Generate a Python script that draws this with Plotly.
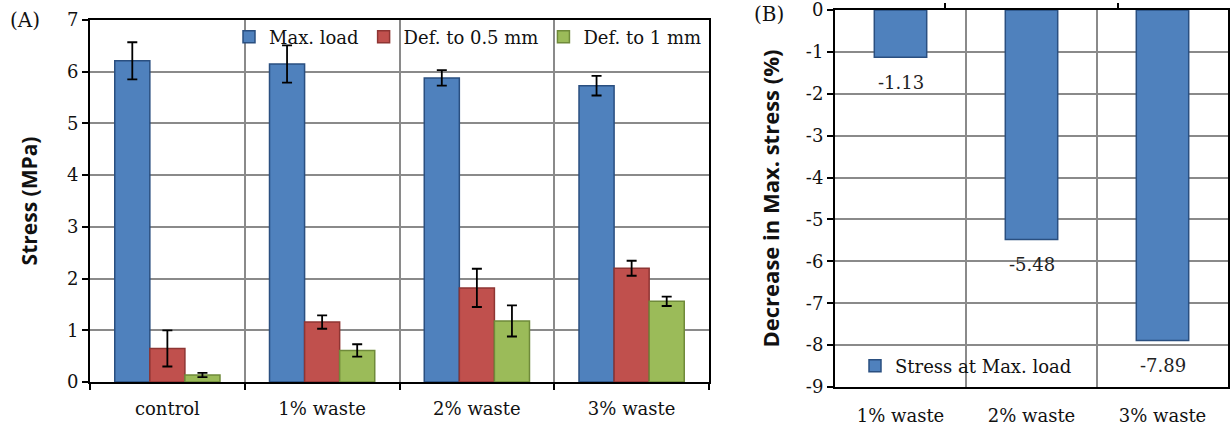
import plotly.graph_objects as go

# ---- data (A) ----
groups = ["control", "1% waste", "2% waste", "3% waste"]
series_names = ["Max. load", "Def. to 0.5 mm", "Def. to 1 mm"]
max_load = [6.21, 6.15, 5.88, 5.73]
max_load_err = [0.36, 0.36, 0.15, 0.19]
def_05 = [0.65, 1.16, 1.82, 2.20]
def_05_err = [0.35, 0.13, 0.37, 0.145]
def_1 = [0.135, 0.61, 1.18, 1.56]
def_1_err = [0.04, 0.12, 0.30, 0.09]
a_ticks = [0, 1, 2, 3, 4, 5, 6, 7]
a_ticklabels = ["0", "1", "2", "3", "4", "5", "6", "7"]

# ---- data (B) ----
groups_b = ["1% waste", "2% waste", "3% waste"]
decrease = [-1.13, -5.48, -7.89]
decrease_labels = ["-1.13", "-5.48", "-7.89"]
b_ticks = [0, -1, -2, -3, -4, -5, -6, -7, -8, -9]
b_ticklabels = ["0", "-1", "-2", "-3", "-4", "-5", "-6", "-7", "-8", "-9"]

SERIF = "DejaVu Serif"
SANS = "Open Sans"
fills = ["#4F81BD", "#C0504D", "#9BBB59"]
edges = ["#2A4F80", "#8E3533", "#6F8A3A"]
GRID = "#8A8A8A"

fig = go.Figure()
vals = [max_load, def_05, def_1]
errs = [max_load_err, def_05_err, def_1_err]
for name, v, e, fc, ec in zip(series_names, vals, errs, fills, edges):
    fig.add_trace(go.Bar(
        x=groups, y=v, name=name, xaxis="x", yaxis="y", legend="legend",
        marker=dict(color=fc, line=dict(color=ec, width=1.5)),
        error_y=dict(type="data", array=e, color="black", thickness=1.8, width=5),
    ))

fig.add_trace(go.Bar(
    x=groups_b, y=decrease, name="Stress at Max. load", xaxis="x2", yaxis="y2",
    legend="legend2", width=0.4,
    marker=dict(color=fills[0], line=dict(color=edges[0], width=1.5)),
))
# invisible helper for top tick marks on panel B
fig.add_trace(go.Scatter(
    x=groups_b, y=decrease, xaxis="x3", yaxis="y2", mode="markers",
    marker=dict(opacity=0), showlegend=False, hoverinfo="skip",
))

for g, v, t in zip(groups_b, decrease, decrease_labels):
    fig.add_annotation(x=g, y=v, xref="x2", yref="y2", text=t, showarrow=False,
                       yshift=-25, font=dict(family=SERIF, size=18, color="#222"))

fig.add_annotation(x=8 / 1231, y=1 - 20 / 431, xref="paper", yref="paper", text="(A)",
                   showarrow=False, xanchor="left", yanchor="middle",
                   font=dict(family=SERIF, size=20, color="#111"))
fig.add_annotation(x=752 / 1231, y=1 - 14 / 431, xref="paper", yref="paper", text="(B)",
                   showarrow=False, xanchor="left", yanchor="middle",
                   font=dict(family=SERIF, size=20, color="#111"))

axis_common = dict(showline=True, linecolor="black", linewidth=2, mirror=True,
                   gridcolor=GRID, gridwidth=1.5, zeroline=False, automargin=False,
                   tickfont=dict(family=SERIF, size=18, color="#111"),
                   ticks="outside", ticklen=6, tickwidth=2, tickcolor="black",
                   ticklabeloverflow="allow")

fig.update_layout(
    width=1231, height=431, margin=dict(l=0, r=0, t=0, b=0),
    paper_bgcolor="white", plot_bgcolor="white",
    barmode="group", bargap=0.32, bargroupgap=0,
    xaxis=dict(domain=[90 / 1231, 709 / 1231], anchor="y", type="category",
               tickson="boundaries", showgrid=True, ticklabelstandoff=9,
               **axis_common),
    yaxis=dict(domain=[1 - 382 / 431, 1 - 20 / 431], anchor="x", range=[0, 7],
               tickvals=a_ticks, ticktext=a_ticklabels, showgrid=True,
               title=dict(text="Stress (MPa)", standoff=24,
                          font=dict(family=SANS, size=21, color="#111", weight="bold")),
               **axis_common),
    xaxis2=dict(domain=[835 / 1231, 1228 / 1231], anchor="y2", type="category",
                tickson="boundaries", showgrid=True, ticklabelstandoff=11,
                **{**axis_common, "ticks": ""}),
    xaxis3=dict(overlaying="x2", anchor="y2", side="top", type="category",
                categoryarray=groups_b, categoryorder="array",
                tickson="boundaries", ticks="outside", ticklen=6, tickwidth=2,
                tickcolor="black", showticklabels=False, showgrid=False,
                showline=False, zeroline=False),
    yaxis2=dict(domain=[1 - 387 / 431, 1 - 10 / 431], anchor="x2", range=[-9, 0],
                tickvals=b_ticks, ticktext=b_ticklabels, showgrid=True,
                title=dict(text="Decrease in Max. stress (%)", standoff=20,
                           font=dict(family=SANS, size=22, color="#111", weight="bold")),
                **axis_common),
    legend=dict(orientation="h", x=707 / 1231, xanchor="right", y=1 - 37 / 431,
                yanchor="middle", bgcolor="rgba(255,255,255,0)",
                font=dict(family=SERIF, size=18, color="#111"),
                itemwidth=30, tracegroupgap=0),
    legend2=dict(orientation="h", x=855 / 1231, xanchor="left", y=1 - 366 / 431,
                 yanchor="middle", bgcolor="rgba(255,255,255,0)",
                 font=dict(family=SERIF, size=18, color="#111"), itemwidth=30),
    showlegend=True,
)

fig.write_html("out.html")
